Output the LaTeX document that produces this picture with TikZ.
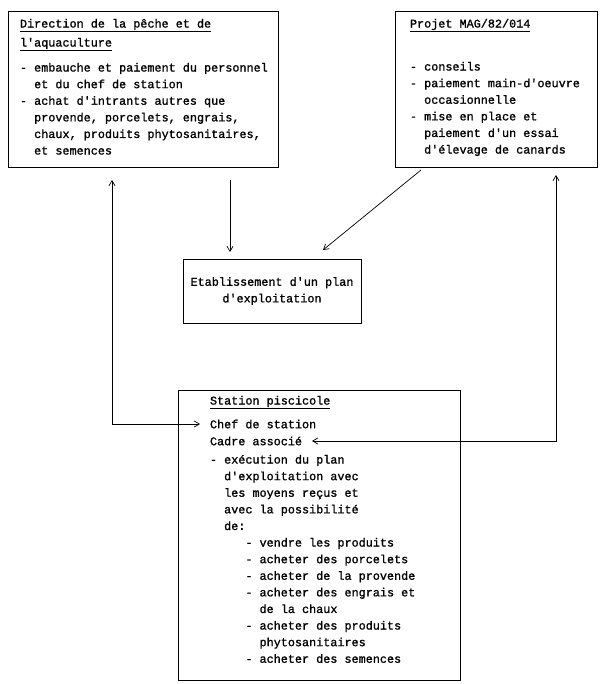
\documentclass[tikz,border=0pt]{standalone}
\usepackage{fontspec}
\setmonofont{Liberation Mono}[FakeBold=1.2]
\usetikzlibrary{positioning,arrows.meta,calc}
\newcommand{\indc}[1]{\hspace*{#1\fontcharwd\font`a}}

\begin{document}
\begin{tikzpicture}[
        x=1pt, y=-1pt,
        outer sep=0pt,
        % cadres
        box/.style={
            draw=black,
            line width=1pt,
            inner sep=0pt,
            anchor=north west
        },
        % blocs de texte
        txt/.style={
            inner sep=0pt,
            anchor=north west,
            align=left,
            font=\ttfamily\fontsize{11.8}{16.6}\selectfont
        },
        % fleches
        link/.style={
            line width=0.7pt,
            -{Straight Barb[length=5pt,width=6pt]}
        },
        dlink/.style={
            line width=0.7pt,
            {Straight Barb[length=5pt,width=6pt]}-{Straight Barb[length=5pt,width=6pt]}
        }
    ]
    \useasboundingbox (0,0) rectangle (600,684);

    % LES QUATRE CADRES
    \node[box, minimum width=270pt, minimum height=156pt] (dir) at (8,12) {};
    \node[box, minimum width=202pt, minimum height=156pt] (proj) at (395,12) {};
    \node[box, minimum width=178pt, minimum height=64pt] (plan) at (183,259) {};
    \node[box, minimum width=282pt, minimum height=290pt] (station) at (178,390) {};

    % TEXTES
    \node[txt] (dirtxt) at (20,19) {\underline{Direction de la pêche et de}\\[2.4pt]
        \underline{l'aquaculture}\\[8.4pt]
        - embauche et paiement du personnel\\
        \indc{2}et du chef de station\\
        - achat d'intrants autres que\\
        \indc{2}provende, porcelets, engrais,\\
        \indc{2}chaux, produits phytosanitaires,\\
        \indc{2}et semences};
    \node[txt] (projtxt) at (410,19) {\underline{Projet MAG/82/014}\\[26.4pt]
        - conseils\\
        - paiement main-d'oeuvre\\
        \indc{2}occasionnelle\\
        - mise en place et\\
        \indc{2}paiement d'un essai\\
        \indc{2}d'élevage de canards};
    \node[txt, align=center, anchor=center] (plantxt) at (plan.center)
        {Etablissement d'un plan\\d'exploitation};
    \node[txt] (stitle) at (210,396) {\underline{Station piscicole}};
    \node[txt, anchor=west] (chef) at (210,424) {Chef de station};
    \node[txt, anchor=west] (cadre) at (210,441) {Cadre associé};
    \node[txt] (sbody) at (210,455) {- exécution du plan\\
        \indc{2}d'exploitation avec\\
        \indc{2}les moyens reçus et\\
        \indc{2}avec la possibilité\\
        \indc{2}de:\\
        \indc{5}- vendre les produits\\
        \indc{5}- acheter des porcelets\\
        \indc{5}- acheter de la provende\\
        \indc{5}- acheter des engrais et\\
        \indc{7}de la chaux\\
        \indc{5}- acheter des produits\\
        \indc{7}phytosanitaires\\
        \indc{5}- acheter des semences};

    % FLECHES
    \coordinate (d1) at ([shift={(-48,12)}]dir.south east);
    \draw[link, shorten >=7pt] (d1) -- (d1 |- plan.north);
    \draw[link] ([shift={(26,2)}]proj.south west) -- ([shift={(-38,-9)}]plan.north east);
    \draw[dlink] ([shift={(104,12)}]dir.south west) |- ([xshift=-10pt]chef.west);
    \draw[dlink] ([shift={(-41,7)}]proj.south east) |- ([xshift=10pt]cadre.east);
\end{tikzpicture}
\end{document}
